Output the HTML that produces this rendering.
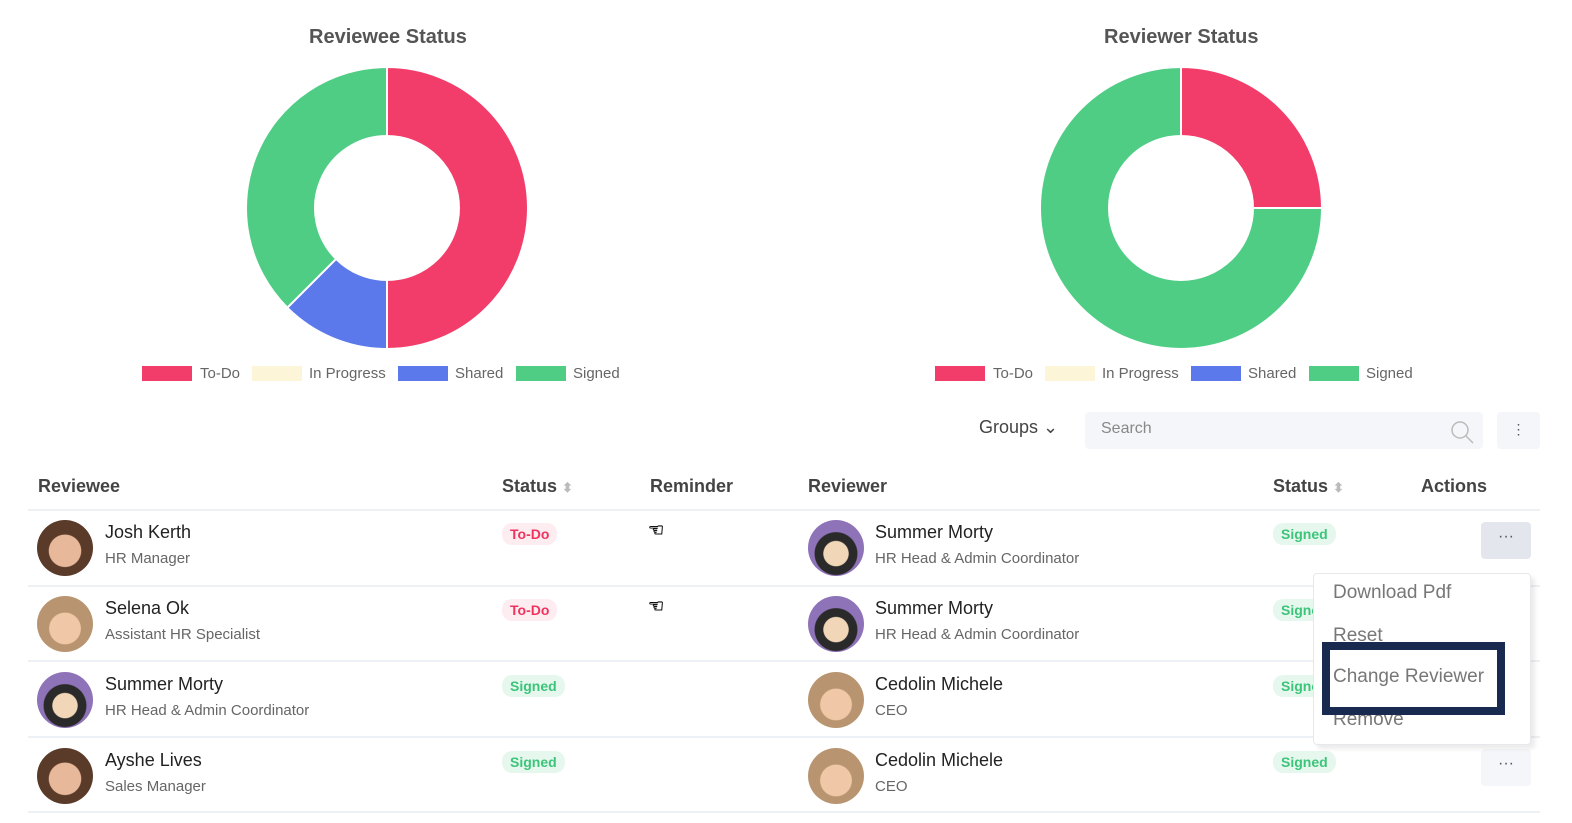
<!DOCTYPE html>
<html><head><meta charset="utf-8"><style>
body{margin:0;width:1572px;height:823px;background:#fff;font-family:"Liberation Sans",sans-serif;position:relative;overflow:hidden;color:#333}
.a{position:absolute;white-space:nowrap}
.h{font-size:18px;font-weight:bold;color:#444}
.nm{font-size:18px;color:#222}
.sb{font-size:15px;color:#666}
.av{position:absolute;width:56px;height:56px;border-radius:50%}
.ph{background:radial-gradient(circle at 50% 55%,#e8b89a 0 38%,#5a3a28 40% 100%)}
.ph2{background:radial-gradient(circle at 50% 58%,#f0c8a8 0 36%,#b89570 38% 100%)}
.ct{background:radial-gradient(circle at 50% 60%,#f1d7b8 0 28%,#2a2a2a 30% 48%,#8f73b8 50%)}
.bd{position:absolute;font-size:14px;font-weight:bold;padding:3px 8px;border-radius:10px}
.td{color:#f0325f;background:#fdedf1}
.sg{color:#3cc47a;background:#e6f8ee}
.ln{position:absolute;left:28px;width:1512px;height:2px;background:#edf0f4}
.ic{position:absolute;font-size:18px;color:#111;font-weight:bold}
</style></head><body>
<div class="a" style="left:309px;top:26px;font-size:20px;font-weight:bold;color:#555">Reviewee Status</div>
<div class="a" style="left:1104px;top:26px;font-size:20px;font-weight:bold;color:#555">Reviewer Status</div>
<svg class="a" style="left:0;top:0" width="1572" height="400">
<g stroke="#fff" stroke-width="2">
<path fill="#f23d6a" d="M387 67 A141 141 0 0 1 387 349 L387 280 A72 72 0 0 0 387 136Z"/>
<path fill="#5b79ea" d="M387 349 A141 141 0 0 1 287.3 307.7 L336.1 258.9 A72 72 0 0 0 387 280Z"/>
<path fill="#4fcd85" d="M287.3 307.7 A141 141 0 0 1 387 67 L387 136 A72 72 0 0 0 336.1 258.9Z"/>
<path fill="#f23d6a" d="M1181 67 A141 141 0 0 1 1322 208 L1253 208 A72 72 0 0 0 1181 136Z"/>
<path fill="#4fcd85" d="M1322 208 A141 141 0 1 1 1181 67 L1181 136 A72 72 0 1 0 1253 208Z"/>
</g>
<g font-size="15" fill="#666" font-family="Liberation Sans,sans-serif">
<rect x="142" y="366" width="50" height="15" fill="#f23d6a"/><text x="200" y="378">To-Do</text>
<rect x="252" y="366" width="50" height="15" fill="#fdf5d8"/><text x="309" y="378">In Progress</text>
<rect x="398" y="366" width="50" height="15" fill="#5b79ea"/><text x="455" y="378">Shared</text>
<rect x="516" y="366" width="50" height="15" fill="#4fcd85"/><text x="573" y="378">Signed</text>
<rect x="935" y="366" width="50" height="15" fill="#f23d6a"/><text x="993" y="378">To-Do</text>
<rect x="1045" y="366" width="50" height="15" fill="#fdf5d8"/><text x="1102" y="378">In Progress</text>
<rect x="1191" y="366" width="50" height="15" fill="#5b79ea"/><text x="1248" y="378">Shared</text>
<rect x="1309" y="366" width="50" height="15" fill="#4fcd85"/><text x="1366" y="378">Signed</text>
</g></svg>
<div class="a" style="left:979px;top:417px;font-size:18px;color:#444">Groups ⌄</div>
<div class="a" style="left:1085px;top:412px;width:398px;height:37px;background:#f4f6f9;border-radius:4px"></div>
<div class="a" style="left:1101px;top:420px;font-size:16px;color:#888">Search</div>
<svg class="a" style="left:1450px;top:420px" width="26" height="26"><circle cx="10" cy="10" r="8" fill="none" stroke="#bbb" stroke-width="1.5"/><line x1="16" y1="16" x2="23" y2="23" stroke="#bbb" stroke-width="1.5"/></svg>
<div class="a" style="left:1497px;top:412px;width:43px;height:37px;background:#f4f6f9;border-radius:4px;text-align:center;line-height:35px;font-size:14px;color:#556">⋮</div>
<div class="a h" style="left:38px;top:476px">Reviewee</div>
<div class="a h" style="left:502px;top:476px">Status <span style="color:#bbb;font-size:13px">⬍</span></div>
<div class="a h" style="left:650px;top:476px">Reminder</div>
<div class="a h" style="left:808px;top:476px">Reviewer</div>
<div class="a h" style="left:1273px;top:476px">Status <span style="color:#bbb;font-size:13px">⬍</span></div>
<div class="a h" style="left:1421px;top:476px">Actions</div>
<div class="ln" style="top:509px"></div><div class="ln" style="top:585px"></div><div class="ln" style="top:660px"></div><div class="ln" style="top:736px"></div><div class="ln" style="top:811px"></div>

<div class="av ph" style="left:37px;top:520px"></div>
<div class="a nm" style="left:105px;top:522px">Josh Kerth</div><div class="a sb" style="left:105px;top:550px">HR Manager</div>
<div class="bd td" style="left:502px;top:523px">To-Do</div><div class="ic" style="left:648px;top:520px">☜</div>
<div class="av ct" style="left:808px;top:520px"></div>
<div class="a nm" style="left:875px;top:522px">Summer Morty</div><div class="a sb" style="left:875px;top:550px">HR Head &amp; Admin Coordinator</div>
<div class="bd sg" style="left:1273px;top:523px">Signed</div>
<div class="a" style="left:1481px;top:522px;width:50px;height:37px;background:#e4e6ee;border-radius:4px;text-align:center;line-height:30px;color:#556">···</div>

<div class="av ph2" style="left:37px;top:596px"></div>
<div class="a nm" style="left:105px;top:598px">Selena Ok</div><div class="a sb" style="left:105px;top:626px">Assistant HR  Specialist</div>
<div class="bd td" style="left:502px;top:599px">To-Do</div><div class="ic" style="left:648px;top:596px">☜</div>
<div class="av ct" style="left:808px;top:596px"></div>
<div class="a nm" style="left:875px;top:598px">Summer Morty</div><div class="a sb" style="left:875px;top:626px">HR Head &amp; Admin Coordinator</div>
<div class="bd sg" style="left:1273px;top:599px">Signed</div>

<div class="av ct" style="left:37px;top:672px"></div>
<div class="a nm" style="left:105px;top:674px">Summer Morty</div><div class="a sb" style="left:105px;top:702px">HR Head &amp; Admin Coordinator</div>
<div class="bd sg" style="left:502px;top:675px">Signed</div>
<div class="av ph2" style="left:808px;top:672px"></div>
<div class="a nm" style="left:875px;top:674px">Cedolin Michele</div><div class="a sb" style="left:875px;top:702px">CEO</div>
<div class="bd sg" style="left:1273px;top:675px">Signed</div>

<div class="av ph" style="left:37px;top:748px"></div>
<div class="a nm" style="left:105px;top:750px">Ayshe Lives</div><div class="a sb" style="left:105px;top:778px">Sales Manager</div>
<div class="bd sg" style="left:502px;top:751px">Signed</div>
<div class="av ph2" style="left:808px;top:748px"></div>
<div class="a nm" style="left:875px;top:750px">Cedolin Michele</div><div class="a sb" style="left:875px;top:778px">CEO</div>
<div class="bd sg" style="left:1273px;top:751px">Signed</div>
<div class="a" style="left:1481px;top:749px;width:50px;height:37px;background:#f4f6f9;border-radius:4px;text-align:center;line-height:30px;color:#556">···</div>

<div class="a" style="left:1313px;top:573px;width:216px;height:170px;background:#fff;border:1px solid #e8e8ec;border-radius:4px;box-shadow:4px 4px 4px rgba(0,0,0,0.08)"></div>
<div class="a" style="left:1333px;top:582px;font-size:19px;color:#777">Download Pdf</div>
<div class="a" style="left:1333px;top:625px;font-size:19px;color:#777">Reset</div>
<div class="a" style="left:1333px;top:709px;font-size:19px;color:#777">Remove</div>
<div class="a" style="left:1322px;top:642px;width:167px;height:57px;border:8px solid #182a50;background:#fff"></div>
<div class="a" style="left:1333px;top:666px;font-size:19px;color:#777">Change Reviewer</div>
</body></html>
